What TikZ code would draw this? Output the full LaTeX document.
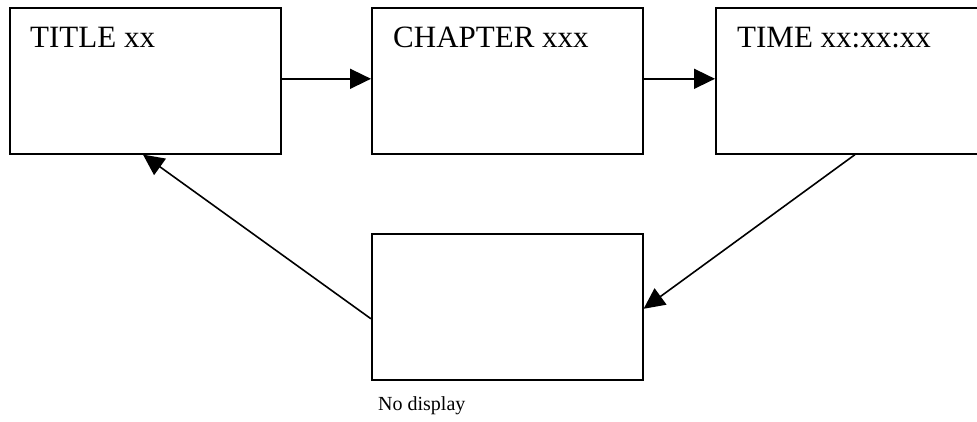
\documentclass[tikz,border=0pt]{standalone}
\usepackage{fontspec}
\setmainfont{Liberation Serif}
\usetikzlibrary{arrows.meta,calc}
\begin{document}
\begin{tikzpicture}[x=1pt,y=-1pt,
  box/.style={draw=black,line width=1.6pt,rectangle,inner sep=0pt,minimum width=271pt,minimum height=146pt,anchor=north west},
  lbl/.style={inner sep=0pt,anchor=base west,font=\fontsize{31}{36}\selectfont},
  note/.style={inner sep=0pt,anchor=base west,font=\fontsize{20}{24}\selectfont},
  conn/.style={line width=1.6pt,-{Triangle[length=21pt,width=20pt]}}]
\useasboundingbox (0,0) rectangle (977,421);
\clip (0,0) rectangle (977,421);
\node[box] (b1) at (9,7) {};
\node[box] (b2) at (371,7) {};
\node[box,minimum width=290pt] (b3) at (715,7) {};
\node[box] (b4) at (371,233) {};
\node[lbl] (t1) at (30,47) {TITLE xx};
\node[lbl] (t2) at (393,47) {CHAPTER xxx};
\node[lbl] (t3) at (737,47) {TIME xx:xx:xx};
\node[note] (n4) at (378,410) {No display};
\draw[conn] ([yshift=2pt]b1.east) -- ([yshift=2pt]b2.west);
\draw[conn] ([yshift=2pt]b2.east) -- ([yshift=2pt]b3.west);
\draw[conn] ([xshift=140pt]b3.south west) -- ([yshift=-2pt]b4.east);
\draw[conn] ([yshift=-12pt]b4.west) -- ([xshift=134pt]b1.south west);
\end{tikzpicture}
\end{document}
